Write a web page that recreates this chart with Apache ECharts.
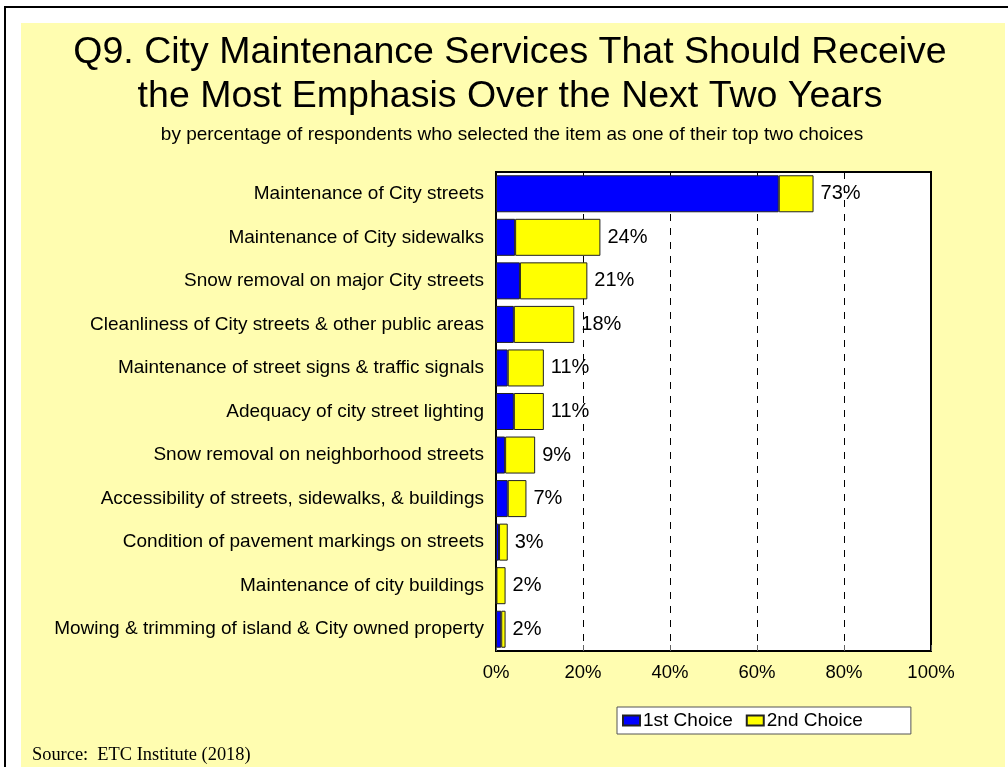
<!DOCTYPE html>
<html>
<head>
<meta charset="utf-8">
<script src="https://cdn.jsdelivr.net/npm/echarts@6/dist/echarts.min.js"></script>
<style>
  html, body { margin: 0; padding: 0; background: #fff; }
  #frame { position: absolute; left: 4px; top: 6px; width: 1004px; height: 761px;
           border-left: 2px solid #000; border-top: 2px solid #000; box-sizing: border-box; }
  #panel { position: absolute; left: 21px; top: 23px; width: 984px; height: 744px; background: #FFFDB0; }
  #chart { position: absolute; left: 0; top: 0; width: 1008px; height: 767px; }
</style>
</head>
<body>
<div id="frame"></div>
<div id="panel"></div>
<div id="chart"></div>
<script>
// Services, listed top to bottom
const categories = [
  'Maintenance of City streets',
  'Maintenance of City sidewalks',
  'Snow removal on major City streets',
  'Cleanliness of City streets & other public areas',
  'Maintenance of street signs & traffic signals',
  'Adequacy of city street lighting',
  'Snow removal on neighborhood streets',
  'Accessibility of streets, sidewalks, & buildings',
  'Condition of pavement markings on streets',
  'Maintenance of city buildings',
  'Mowing & trimming of island & City owned property'
];
// Percent of respondents naming the item as 1st and 2nd choice
const firstChoice  = [65, 4.4, 5.5, 4.1, 2.7, 4.1, 2.1, 2.7, 0.7, 0.1, 1.2];
const secondChoice = [8, 19.6, 15.5, 13.9, 8.3, 6.9, 6.9, 4.3, 2.0, 2.1, 1.0];
const xTicks = [0, 20, 40, 60, 80, 100];

const totals = firstChoice.map((v, i) => v + secondChoice[i]);

const chart = echarts.init(document.getElementById('chart'));
const font = 'Liberation Sans, Arial, Helvetica, sans-serif';

chart.setOption({
  backgroundColor: 'transparent',
  animation: false,
  textStyle: { fontFamily: font, color: '#000' },
  title: [
    {
      text: 'Q9. City Maintenance Services That Should Receive\nthe Most Emphasis Over the Next Two Years',
      left: 505, top: 26, textAlign: 'center',
      textStyle: { fontSize: 37.5, fontWeight: 'normal', lineHeight: 44, color: '#000', fontFamily: font }
    },
    {
      text: 'by percentage of respondents who selected the item as one of their top two choices',
      left: 507, top: 120, textAlign: 'center',
      textStyle: { fontSize: 19, fontWeight: 'normal', color: '#000', fontFamily: font }
    },
    {
      text: 'Source:  ETC Institute (2018)',
      left: 27, top: 741,
      textStyle: { fontSize: 18.4, fontWeight: 'normal', color: '#000', fontFamily: 'Liberation Serif, Times New Roman, serif' }
    }
  ],
  legend: {
    left: 617, top: 707,
    data: ['1st Choice', '2nd Choice'],
    backgroundColor: '#fff', borderColor: '#555', borderWidth: 1,
    padding: [4, 48, 4, 5], itemGap: 13, itemWidth: 17, itemHeight: 10,
    icon: 'rect',
    textStyle: { fontSize: 19, color: '#000', fontFamily: font, padding: [0, 0, 0, -2] }
  },
  grid: {
    left: 496, right: 77, top: 172, bottom: 116,
    show: true, backgroundColor: '#fff', borderColor: '#000', borderWidth: 2
  },
  xAxis: {
    type: 'value', min: 0, max: 100, interval: 20,
    axisLine: { show: false },
    axisTick: { show: true, inside: true, length: 6, lineStyle: { color: '#666' } },
    splitLine: { show: true, lineStyle: { color: '#000', type: [7, 7], width: 1 } },
    axisLabel: {
      fontSize: 18.5, color: '#000', margin: 12, fontFamily: font,
      formatter: v => xTicks.includes(v) ? v + '%' : ''
    }
  },
  yAxis: {
    type: 'category', data: categories, inverse: true,
    axisLine: { show: false }, axisTick: { show: false },
    axisLabel: { fontSize: 19, color: '#000', margin: 12, fontFamily: font, padding: [3, 0, 0, 0] }
  },
  series: [
    {
      name: '1st Choice', type: 'bar', stack: 'c', barCategoryGap: '15%',
      data: firstChoice,
      itemStyle: { color: '#0000FF', borderColor: '#222', borderWidth: 1 }
    },
    {
      name: '2nd Choice', type: 'bar', stack: 'c', barCategoryGap: '15%',
      data: secondChoice,
      itemStyle: { color: '#FFFF00', borderColor: '#222', borderWidth: 1 },
      label: {
        show: true, position: 'right', distance: 7,
        fontSize: 20, color: '#000', fontFamily: font, padding: [3, 0, 0, 0],
        formatter: p => Math.round(totals[p.dataIndex]) + '%'
      }
    }
  ]
});
</script>
</body>
</html>
